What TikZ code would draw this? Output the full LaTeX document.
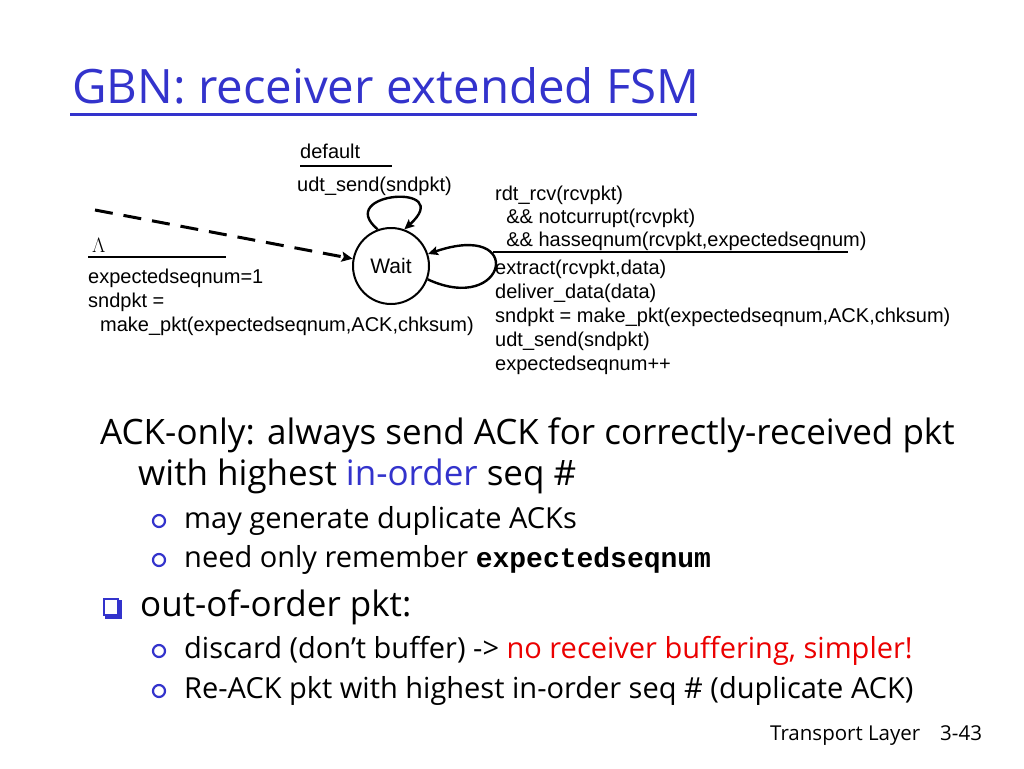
\documentclass[tikz,border=0pt]{standalone}
\usepackage{fontspec}
\setmainfont{Liberation Sans}
\newfontfamily\comic{Open Sans}
\newfontfamily\courb{Liberation Mono}
\usetikzlibrary{arrows.meta}
\definecolor{ttlblue}{RGB}{51,51,204}
\definecolor{hotred}{RGB}{235,0,0}
\begin{document}
\begin{tikzpicture}[x=1pt,y=-1pt,
  fsm/.style={font=\fontsize{20}{24}\selectfont, inner sep=0pt, anchor=base west},
  rulel/.style={line width=2.5pt, line cap=butt},
  state/.style={circle, draw, line width=2pt, minimum size=76pt, inner sep=0pt, font=\fontsize{21}{24}\selectfont},
  trans/.style={line width=2.4pt, -{Stealth[length=10pt,width=9pt,inset=2pt]}},
  initarr/.style={line width=3pt, dash pattern=on 18pt off 11pt, -{Stealth[length=11pt,width=10pt,inset=2pt]}},
  ttl/.style={font=\comic\fontsize{47.4}{52}\selectfont, text=ttlblue, inner sep=0pt, anchor=base west},
  big/.style={font=\comic\fontsize{35}{40}\selectfont, inner sep=0pt, anchor=base west},
  small/.style={font=\comic\fontsize{29}{34}\selectfont, inner sep=0pt, anchor=base west},
  foot/.style={font=\comic\fontsize{20.5}{24}\selectfont, inner sep=0pt, anchor=base west},
  subbul/.style={draw=ttlblue, line width=2.2pt, circle, inner sep=0pt, minimum size=12pt},
]
\useasboundingbox (0,0) rectangle (1024,768);
\fill[white] (0,0) rectangle (1024,768);

% title
\node[ttl] (title) at (72,103) {GBN: receiver extended FSM};
\draw[ttlblue, line width=3pt] (70,114) -- (697,114);

% FSM
\node[state] (wait) at (391,266) {Wait};
\coordinate (init) at (95,210);
\draw[initarr] (init) -- (wait);
\draw[trans] (wait.110) .. controls (333,192) and (457,182) .. (wait.70);
\draw[trans] (wait.-20) .. controls (507,316) and (527,220) .. (wait.18);

% initial transition label
\node[fsm] (lam) at (92,252) {$\Lambda$};
\draw[rulel] (88,257) -- (226,257);
\node[fsm] (i1) at (88,283) {expectedseqnum=1};
\node[fsm] (i2) at (88,307) {sndpkt =};
\node[fsm] (i3) at (100,331) {make\_pkt(expectedseqnum,ACK,chksum)};

% self loop top label
\node[fsm] (d1) at (300,158) {default};
\draw[rulel] (300,166) -- (392,166);
\node[fsm] (d2) at (297,191) {udt\_send(sndpkt)};

% self loop right label
\node[fsm] (r1) at (495,200) {rdt\_rcv(rcvpkt)};
\node[fsm] (r2) at (495,223) {\ \ \&\& notcurrupt(rcvpkt)};
\node[fsm] (r3) at (495,246) {\ \ \&\& hasseqnum(rcvpkt,expectedseqnum)};
\draw[rulel] (493,252) -- (848,252);
\node[fsm] (a1) at (495,274) {extract(rcvpkt,data)};
\node[fsm] (a2) at (495,298) {deliver\_data(data)};
\node[fsm] (a3) at (495,322) {sndpkt = make\_pkt(expectedseqnum,ACK,chksum)};
\node[fsm] (a4) at (495,346) {udt\_send(sndpkt)};
\node[fsm] (a5) at (495,370) {expectedseqnum++};

% bullets
\node[big] (b1) at (100,444) {ACK-only: always send ACK for correctly-received pkt};
\node[big] (b2) at (138,485) {with highest \textcolor{ttlblue}{in-order} seq \#};
\node[subbul] (c1) at (159,521) {};
\node[small] (s1) at (184,528) {may generate duplicate ACKs};
\node[subbul] (c2) at (159,560) {};
\node[small] (s2) at (184,567) {need only remember {\courb\bfseries\fontsize{28}{32}\selectfont expectedseqnum}};
\draw[ttlblue, line width=1.5pt] (104,599) rectangle (118,615);
\draw[ttlblue, line width=3pt] (120,600) -- (120,617) -- (105,617);
\node[big] (b3) at (140,616) {out-of-order pkt:};
\node[subbul] (c3) at (159,651) {};
\node[small] (s3) at (184,658) {discard (don’t buffer) -> \textcolor{hotred}{no receiver buffering, simpler!}};
\node[subbul] (c4) at (159,691) {};
\node[small] (s4) at (184,698) {Re-ACK pkt with highest in-order seq \# (duplicate ACK)};

% footer
\node[foot] (f1) at (770,740) {Transport Layer};
\node[foot] (f2) at (940,740) {3-43};
\end{tikzpicture}
\end{document}
